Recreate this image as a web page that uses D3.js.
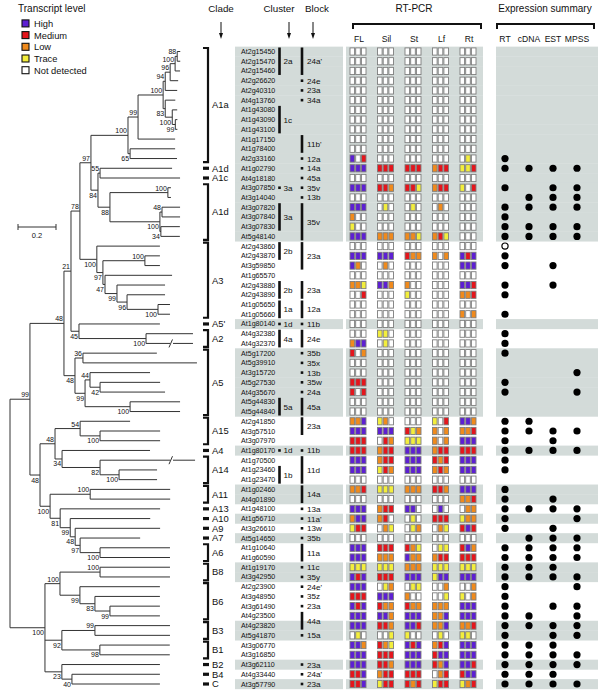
<!DOCTYPE html>
<html>
<head>
<meta charset="utf-8">
<script src="https://cdn.jsdelivr.net/npm/d3@7"></script>
<style>
  body { margin: 0; background: #fff; }
  text { font-family: "Liberation Sans", Arial, Helvetica, sans-serif; fill: #111; }
</style>
</head>
<body>
<svg id="chart" width="600" height="694"></svg>
<script>
// ---- data ----
const genes = ["At2g15450","At2g15470","At2g15460","At2g26620","At2g40310","At4g13760","At1g43080","At1g43090","At1g43100","At1g17150",
  "At1g78400","At2g33160","At1g02790","At4g18180","At3g07850","At3g14040","At3g07820","At3g07840","At3g07830","At5g48140",
  "At2g43860","At2g43870","At3g59850","At1g65570","At2g43880","At2g43890","At1g05650","At1g05660","At1g80140","At4g32380",
  "At4g32370","At5g17200","At5g39910","At3g15720","At5g27530","At4g35670","At5g44830","At5g44840","At2g41850","At3g57510",
  "At3g07970","At1g80170","At1g70500","At1g23460","At1g23470","At1g02460","At4g01890","At1g48100","At1g56710","At3g26610",
  "At5g14650","At1g10640","At1g60590","At1g19170","At3g42950","At2g23900","At3g48950","At3g61490","At4g23500","At4g23820",
  "At5g41870","At3g06770","At3g16850","At3g62110","At4g33440","At3g57790"];

// rows drawn on grey background (1) or white (0)
const shaded = [1,1,1,1,1,1,1,1,1,1, 1,1,1,1,1,1,1,1,1,1, 0,0,0,0,0,0,0,0,1,0,
  0,1,1,1,1,1,1,1,0,0, 0,1,0,0,0,1,1,0,1,0, 1,0,0,1,1,0,0,0,0,1, 1,0,0,1,0,1];

const tissues = ["FL","Sil","St","Lf","Rt"];
const levels = ["High","Medium","Low","Trace","Not detected"];
const levelCode = {H:"High", M:"Medium", L:"Low", T:"Trace", N:"Not detected"};
const levelColor = {"High":"#5d1fd3","Medium":"#e5151c","Low":"#f08a1c","Trace":"#f3ee3c","Not detected":"#ffffff"};

// RT-PCR: 3 replicates per tissue, FL Sil St Lf Rt
const rtpcr = [
  "NNNNNNNNNNNNNNN","NNNNNNNNNNNNNNN","NNNNNNNNNNNNNNN","NNNNNNNNNNNNNNN","NNNNNNNNNNNNNNN",
  "NNNNNNNNNNNNNNN","NNNNNNNNNNNNNNN","NNNNNNNNNNNNNNN","NNNNNNNNNNNNNNN","NNNNNNNNNNNNNNN",
  "NNNNNNNNNNNNNNN","HNMNNNNNNNNNNTN","HHHMMMMMMLMMTTM","NNNNNNNNNNNNNNN","HHHMMLMMTLMMTNM",
  "NNNNNNNNNNNNNNN","HHHNTNNTNNLNNNN","LNNNNNNNNNNNNNN","TNNNNNNNNNNNNNN","HHHLLLLLTLMTNNN",
  "NNNNNNNNNNNNNNN","HHHHHHMLLLNLHMH","HLNNLNNNNNNNHHH","NNNNNNNNNNNNNNN","LLTHHLLNNNNNHHM",
  "NNMNNNTNNNNNLLM","NNNNNNNNNNNNNNN","NNNNNNNNNNNNLNL","NNNNNNNNNNNNNNN","NNNTTNNNNNNNNNN",
  "LHHNTNNNNNNNNNN","MNLNNNNNNNNNNNN","NNNNNNNNNNNNNNN","NNNNNNNNNNNNNNN","MMMNNNNNNNNNNNN",
  "MNMNNNNNNNNNNNN","NNNNNNNNNNNNNNN","NNNNNNNNNNNNNNN","LLHTLNNNNTNMHHL","HHHHHHMTLLNLLLM",
  "MMMNMLTTTLNLHHH","MMMLMMHHHLMMMMM","HHHLMMHHHMLMHHH","HHHTMLHHHLMLHHH","NNNNNNNNNNNNNNN",
  "LLMTTTLLLMMLHHH","NNNNNNNNNNNNLLM","HHHLMMHHNNHNNLL","LHHLMNNTNMMMTLL","TMMNLTNTLNLTMHM",
  "NNNNNNNNNNNNNNN","HHHMMMMLTNTTMHL","HHHLLLHLLLMMMMM","TTTTTTLLLTTTTTT","HMHMMMHHHTHHHHH",
  "HHHNTLNTTNNLNNL","MMMHHHLNNNNTTNL","HMHMLLMLLLLLHHH","HHHHHLHHHLLHHHH","HHHMMLHHMLLHLLM",
  "NTNNNTTNNNTNTTN","HHLMLTHMHLMHHHH","HHHMMMHHHMHHHHH","HHHMMLHHHMLHHHM","MMHLMMMMMNLMMHH",
  "MMHTMMMLMTMMTLM"];

// expression summary: RT, cDNA, EST, MPSS  (1 = found, o = RT open circle, 0 = none)
const exprCols = ["RT","cDNA","EST","MPSS"];
const expr = [
  "0000","0000","0000","0000","0000","0000","0000","0000","0000","0000",
  "0000","1000","1111","0000","1011","0111","1111","1000","1111","1111",
  "o000","1000","1010","0000","1010","1000","0000","1000","0000","1000",
  "1000","1000","0000","0001","1000","1001","0000","0000","1100","1111",
  "1010","1111","1000","1000","0000","1000","1010","1111","1001","1010",
  "0111","1111","1111","1110","1111","1001","1000","1011","1101","1111",
  "1011","1110","1111","1111","1110","1111"];

// [label, first row, last row]
const clades = [["A1a",0,11],["A1d",12,12],["A1c",13,13],["A1d",14,19],["A3",20,27],["A5'",28,28],["A2",29,30],
  ["A5",31,37],["A15",38,40],["A4",41,41],["A14",42,44],["A11",45,46],["A13",47,47],["A10",48,48],["A9",49,49],
  ["A7",50,50],["A6",51,52],["B8",53,54],["B6",55,58],["B3",59,60],["B1",61,62],["B2",63,63],["B4",64,64],["C",65,65]];
const clusters = [["2a",0,2],["1c",6,8],["3a",14,14],["3a",16,18],["2b",20,21],["2b",24,25],["1a",26,27],
  ["1d",28,28],["4a",29,30],["5a",36,37],["1d",41,41],["1b",43,44]];
const blocks = [["24a'",0,2],["24e",3,3],["23a",4,4],["34a",5,5],["11b'",9,10],["12a",11,11],["14a",12,12],
  ["45a",13,13],["35v",14,14],["13b",15,15],["35v",16,19],["23a",20,22],["23a",24,25],["12a",26,27],["11b",28,28],
  ["24e",29,30],["35b",31,31],["35x",32,32],["13b",33,33],["35w",34,34],["24a",35,35],["45a",36,37],["23a",38,39],
  ["11b",41,41],["11d",42,44],["14a",45,46],["13a",47,47],["11a'",48,48],["13w",49,49],["35b",50,50],["11a",51,52],
  ["11c",53,53],["35y",54,54],["24e'",55,55],["35z",56,56],["23a",57,57],["44a",58,59],["15a",60,60],["23a",63,63],
  ["24a'",64,64],["23a",65,65]];

// tree: Newick, branch lengths in substitutions/site, internal labels = bootstrap
const newick =
 "((((((((((((((At2g15450:0.016,At2g15470:0.016)88:0.011,At2g15460:0.026)100:0.026,At2g26620:0.042)96:0.026," +
 "At2g40310:0.063)94:0.011,(At4g13760:0.053,(At1g43080:0.026,(At1g43090:0.011,At1g43100:0.011)99:0.016)100:0.037)83:0.011)100:0.132," +
 "At1g17150:0.195)99:0.053,(At1g78400:0.237,At2g33160:0.247)65:0.011)100:0.195," +
 "((At1g02790:0.379,At4g18180:0.421)55:0.011,((At3g07850:0.016,At3g14040:0.016)100:0.305," +
 "((At3g07820:0.095,At3g07840:0.095)48:0.011,(At3g07830:0.1,At5g48140:0.1)34:0.005)100:0.263)88:0.063)84:0.037)97:0.058," +
 "(At2g43860:0.332,((At2g43870:0.079,At3g59850:0.079)100:0.221,(At1g65570:0.353,(At2g43880:0.253," +
 "(At2g43890:0.2,(At1g05650:0.063,At1g05660:0.063)100:0.163)96:0.053)99:0.063)47:0.011)97:0.032)100:0.089)78:0.047," +
 "(At1g80140:0.426,(At4g32380:0.247,At4g32370:0.247)100:0.353)45:0.042)21:0.037," +
 "((At5g17200:0.389,At5g39910:0.6)36:0.042,((At3g15720:0.316,(At5g27530:0.316,At4g35670:0.342)42:0.053)44:0.026," +
 "(At5g44830:0.263,At5g44840:0.263)100:0.237)99:0.053)48:0.058)48:0.179," +
 "(((At2g41850:0.263,(At3g57510:0.316,At3g07970:0.316)100:0.105)54:0.132,(At1g80170:0.463,(At1g70500:0.5," +
 "(At1g23460:0.2,At1g23470:0.2)100:0.1)82:0.2)34:0.037)48:0.079,((At1g02460:0.421,At4g01890:0.421)100:0.211," +
 "(At1g48100:0.526,(At1g56710:0.421,(At3g26610:0.447,(At5g14650:0.316,(At1g10640:0.368,At1g60590:0.368)100:0.105)97:0.026)48:0.026)99:0.053)81:0.053)100:0.053)48:0.053)99:0.105," +
 "(((At1g19170:0.368,At3g42950:0.368)100:0.211,(At2g23900:0.421,(At3g48950:0.342,(At3g61490:0.263,At4g23500:0.263)99:0.079)83:0.079)99:0.105)100:0.079," +
 "((At4g23820:0.395,At5g41870:0.395)99:0.174,(At3g06770:0.368,At3g16850:0.368)98:0.2)92:0.089," +
 "(At3g62110:0.516,(At4g33440:0.463,At3g57790:0.463)40:0.053)23:0.089)100:0.184);";
// leaves whose branch is drawn broken (position along tree, substitutions/site)
const brokenBranches = [["At4g32370",0.85],["At1g70500",0.85]];

// ---- helpers ----
function parseNewick(s) {
  let i = 0;
  function node() {
    const n = {};
    if (s[i] === "(") {
      i++; n.children = [];
      n.children.push(node());
      while (s[i] === ",") { i++; n.children.push(node()); }
      i++;
    }
    let lab = "";
    while (i < s.length && !":,);".includes(s[i])) lab += s[i++];
    n.name = lab;
    n.length = 0;
    if (s[i] === ":") {
      i++; let num = "";
      while (i < s.length && !",);".includes(s[i])) num += s[i++];
      n.length = +num;
    }
    return n;
  }
  return node();
}

const svg = d3.select("#chart");
const y = d3.scaleLinear().domain([0, genes.length - 1]).range([51.5, 684]);
const rowH = y(1) - y(0);
const x = d3.scaleLinear().domain([0, 1]).range([10, 200]);

const geneBox = [235, 343], pcrBox = [346, 483], exprBox = [496, 598];
const tissueX = d3.scalePoint().domain(tissues).range([350, 460]);
const cellStep = 5.7, cellW = 4.6, cellH = 7.2;
const exprX = d3.scalePoint().domain(exprCols).range([505, 577]);

// ---- background bands ----
const bg = svg.append("g");
genes.forEach((g, i) => {
  if (!shaded[i]) return;
  [geneBox, pcrBox, exprBox].forEach(b => {
    bg.append("rect").attr("x", b[0]).attr("y", y(i) - rowH / 2)
      .attr("width", b[1] - b[0]).attr("height", rowH + 0.3).attr("fill", "#d3dbd9");
  });
});

// ---- headers ----
const hdr = svg.append("g");
hdr.append("text").text("Transcript level").attr("x", 18).attr("y", 12).attr("font-size", 10);
levels.forEach((lv, i) => {
  const ly = 23.5 + i * 11.7;
  hdr.append("rect").attr("x", 22).attr("y", ly - 3.6).attr("width", 7).attr("height", 7)
    .attr("fill", levelColor[lv]).attr("stroke", "#111").attr("stroke-width", 1.1);
  hdr.append("text").text(lv).attr("x", 34).attr("y", ly + 3.4).attr("font-size", 9.3);
});
[["Clade",221],["Cluster",279],["Block",317]].forEach(([t, cx]) => {
  hdr.append("text").text(t).attr("x", cx).attr("y", 12).attr("text-anchor", "middle").attr("font-size", 9.8);
});
[221, 289, 313].forEach(ax => {
  hdr.append("line").attr("x1", ax).attr("x2", ax).attr("y1", 22).attr("y2", 36).attr("stroke", "#111").attr("stroke-width", 1);
  hdr.append("path").attr("d", `M${ax - 2},${33} L${ax},${39} L${ax + 2},${33} Z`).attr("fill", "#111");
});
hdr.append("text").text("RT-PCR").attr("x", 414).attr("y", 12).attr("text-anchor", "middle").attr("font-size", 10);
hdr.append("text").text("Expression  summary").attr("x", 545).attr("y", 12).attr("text-anchor", "middle").attr("font-size", 10);
[[353, 481], [497, 594]].forEach(([a, b]) => {
  hdr.append("path").attr("d", `M${a},${29} V${24} H${b} V${29}`).attr("fill", "none")
    .attr("stroke", "#111").attr("stroke-width", 2);
});
tissues.forEach(t => {
  hdr.append("text").text(t).attr("x", tissueX(t) + cellStep + cellW / 2 + 1).attr("y", 42)
    .attr("text-anchor", "middle").attr("font-size", 8.6);
});
exprCols.forEach(c => {
  hdr.append("text").text(c).attr("x", exprX(c)).attr("y", 42).attr("text-anchor", "middle").attr("font-size", 8.6);
});

// ---- gene labels, clusters, blocks ----
const lab = svg.append("g");
genes.forEach((g, i) => {
  lab.append("text").text(g).attr("x", 241).attr("y", y(i) + 2.5).attr("font-size", 7.1).attr("fill", "#222");
});
function drawSpans(list, bx, tx) {
  list.forEach(([name, a, b]) => {
    if (a === b) {
      lab.append("rect").attr("x", bx - 1.3).attr("y", y(a) - 1.3).attr("width", 2.6).attr("height", 2.6).attr("fill", "#111");
    } else {
      lab.append("rect").attr("x", bx - 1.3).attr("y", y(a) - 4).attr("width", 2.6)
        .attr("height", y(b) - y(a) + 8).attr("fill", "#111");
    }
    lab.append("text").text(name).attr("x", tx).attr("y", (y(a) + y(b)) / 2 + 3)
      .attr("font-size", 8.1).attr("fill", "#222");
  });
}
drawSpans(clusters, 279.5, 283.5);
drawSpans(blocks, 302, 307);

// ---- clades ----
const cl = svg.append("g");
clades.forEach(([name, a, b]) => {
  if (a === b) {
    cl.append("rect").attr("x", 203).attr("y", y(a) - 1.6).attr("width", 6).attr("height", 3.2).attr("fill", "#111");
  } else {
    cl.append("path").attr("d", `M${203},${y(a) - 3.5} H${208} V${y(b) + 3.5} H${203}`)
      .attr("fill", "none").attr("stroke", "#111").attr("stroke-width", 2.2);
  }
  cl.append("text").text(name).attr("x", 212).attr("y", (y(a) + y(b)) / 2 + 3.4).attr("font-size", 9.4);
});

// ---- RT-PCR grid ----
const grid = svg.append("g");
rtpcr.forEach((row, i) => {
  row.split("").forEach((c, k) => {
    const t = tissues[Math.floor(k / 3)];
    grid.append("rect")
      .attr("x", tissueX(t) + (k % 3) * cellStep).attr("y", y(i) - cellH / 2)
      .attr("width", cellW).attr("height", cellH)
      .attr("fill", levelColor[levelCode[c]]).attr("stroke", "#7d7d7d").attr("stroke-width", 0.9);
  });
});

// ---- expression summary ----
const ex = svg.append("g");
expr.forEach((row, i) => {
  row.split("").forEach((c, k) => {
    if (c === "0") return;
    ex.append("circle").attr("cx", exprX(exprCols[k])).attr("cy", y(i)).attr("r", c === "o" ? 3.1 : 3.6)
      .attr("fill", c === "o" ? "#fff" : "#000").attr("stroke", "#000").attr("stroke-width", c === "o" ? 1.2 : 0);
  });
});

// ---- tree ----
const root = d3.hierarchy(parseNewick(newick));
root.eachBefore(n => { n.dist = (n.parent ? n.parent.dist : 0) + n.data.length; });
root.eachAfter(n => {
  if (n.children) n.py = (n.children[0].py + n.children[n.children.length - 1].py) / 2;
  else n.py = y(genes.indexOf(n.data.name));
});
const tree = svg.append("g").attr("fill", "none").attr("stroke", "#333").attr("stroke-width", 1);
root.descendants().forEach(n => {
  if (n.parent) {
    tree.append("line").attr("x1", x(n.parent.dist)).attr("x2", x(n.dist)).attr("y1", n.py).attr("y2", n.py);
  }
  if (n.children) {
    tree.append("line").attr("x1", x(n.dist)).attr("x2", x(n.dist))
      .attr("y1", n.children[0].py).attr("y2", n.children[n.children.length - 1].py);
  }
});
brokenBranches.forEach(([g, d]) => {
  const yy = y(genes.indexOf(g));
  svg.append("rect").attr("x", x(d) - 1.5).attr("y", yy - 1).attr("width", 3).attr("height", 2).attr("fill", "#fff");
  svg.append("line").attr("x1", x(d) - 2.5).attr("x2", x(d) + 1).attr("y1", yy + 4).attr("y2", yy - 4)
    .attr("stroke", "#333").attr("stroke-width", 1);
});
const boot = svg.append("g");
root.descendants().forEach(n => {
  if (!n.children || !n.data.name || !n.parent) return;
  const first = n.parent.children[0] === n;
  boot.append("text").text(n.data.name).attr("x", x(n.dist) - 1).attr("y", first ? n.py - 2 : n.py + 7.5)
    .attr("text-anchor", "end").attr("font-size", 7).attr("fill", "#333");
});
if (root.data.name) {
  boot.append("text").text(root.data.name).attr("x", x(0) + 1).attr("y", root.py - 2).attr("font-size", 7);
}

// scale bar
const sb = svg.append("g");
sb.append("line").attr("x1", x(0) + 8).attr("x2", x(0.2) + 8).attr("y1", 227).attr("y2", 227).attr("stroke", "#333");
[0, 0.2].forEach(v => sb.append("line").attr("x1", x(v) + 8).attr("x2", x(v) + 8).attr("y1", 224).attr("y2", 230).attr("stroke", "#333"));
sb.append("text").text("0.2").attr("x", x(0.1) + 8).attr("y", 238).attr("text-anchor", "middle").attr("font-size", 7.5);
</script>
</body>
</html>
